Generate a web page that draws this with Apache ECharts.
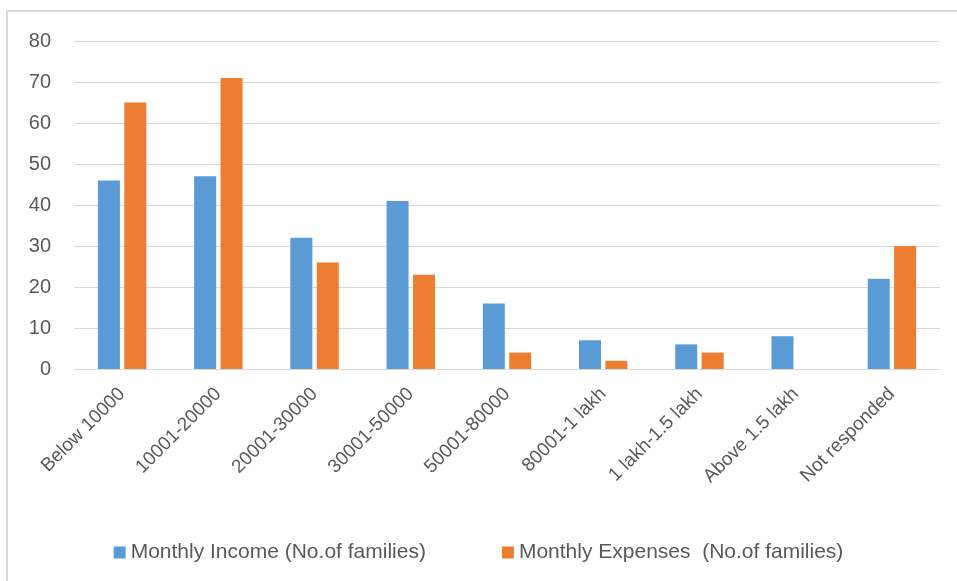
<!DOCTYPE html>
<html>
<head>
<meta charset="utf-8">
<script src="https://cdn.jsdelivr.net/npm/echarts@6/dist/echarts.min.js"></script>
<style>
html, body { margin: 0; padding: 0; background: #fff; }
#chart { width: 957px; height: 581px; }
</style>
</head>
<body>
<div id="chart"></div>
<script>
var categories = ['Below 10000', '10001-20000', '20001-30000', '30001-50000', '50001-80000',
	'80001-1 lakh', '1 lakh-1.5 lakh', 'Above 1.5 lakh', 'Not responded'];
var incomeValues = [46, 47, 32, 41, 16, 7, 6, 8, 22];
var expenseValues = [65, 71, 26, 23, 4, 2, 4, null, 30];
var seriesNames = ['Monthly Income (No.of families)', 'Monthly Expenses  (No.of families)'];

var myChart = echarts.init(document.getElementById('chart'));
var textColor = '#595959';
var font = 'Liberation Sans, sans-serif';

option = {
	animation: false,
	color: ['#5b9bd5', '#ed7d31'],
	textStyle: { fontFamily: font },
	graphic: [{
		type: 'rect',
		shape: { x: 7, y: 11, width: 1000, height: 1000 },
		style: { fill: 'none', stroke: '#d9d9d9', lineWidth: 2 }
	}],
	grid: { left: 74, right: 17, top: 41, bottom: 212 },
	legend: {
		data: seriesNames,
		top: 537,
		left: 'center',
		itemWidth: 12,
		itemHeight: 12,
		itemGap: 76,
		icon: 'rect',
		textStyle: { color: textColor, fontSize: 21, fontFamily: font }
	},
	xAxis: {
		type: 'category',
		data: categories,
		axisLine: { lineStyle: { color: '#d9d9d9', width: 1 } },
		axisTick: { show: false },
		axisLabel: { rotate: 45, color: textColor, fontSize: 19, margin: 22, interval: 0, fontFamily: font }
	},
	yAxis: {
		type: 'value',
		min: 0,
		max: 80,
		interval: 10,
		axisLine: { show: false },
		axisTick: { show: false },
		splitLine: { lineStyle: { color: '#d9d9d9', width: 1 } },
		axisLabel: { color: textColor, fontSize: 20, margin: 23, fontFamily: font }
	},
	series: [{
		name: seriesNames[0],
		type: 'bar',
		data: incomeValues,
		barWidth: 22,
		barGap: '20%'
	}, {
		name: seriesNames[1],
		type: 'bar',
		data: expenseValues,
		barWidth: 22,
		barGap: '20%'
	}]
};
myChart.setOption(option);
</script>
</body>
</html>
